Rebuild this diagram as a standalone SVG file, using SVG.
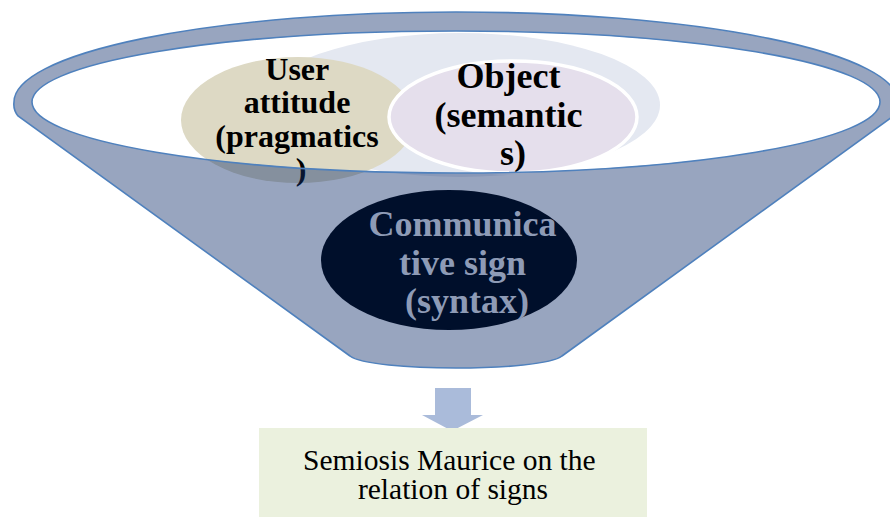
<svg xmlns="http://www.w3.org/2000/svg" width="890" height="517" viewBox="0 0 890 517">
  <style>
    .lbl { font-family: "Liberation Serif", "Times New Roman", serif; text-anchor: middle; }
    .bold { font-weight: bold; }
    .dark { fill: #000000; }
    .pale { fill: #8E9BB6; }
    .outline { stroke: #4F81BD; stroke-width: 1.6; }
  </style>

  <!-- background circles inside the funnel mouth -->
  <g id="halo">
    <ellipse cx="460" cy="105" rx="200" ry="72" fill="#E4E8F1"/>
  </g>

  <g id="pragmatics">
    <ellipse cx="298" cy="120" rx="117" ry="63" fill="#DDD9C4"/>
    <text class="lbl bold dark" font-size="32">
      <tspan x="301" y="80">User</tspan>
      <tspan x="301" y="113">attitude</tspan>
      <tspan x="301" y="147">(pragmatics</tspan>
      <tspan x="301" y="180">)</tspan>
    </text>
  </g>

  <g id="semantics">
    <ellipse cx="513" cy="117" rx="124" ry="56" fill="#E5DFEC" stroke="#FFFFFF" stroke-width="3.5"/>
    <text class="lbl bold dark" font-size="36">
      <tspan x="513" y="88">Object</tspan>
      <tspan x="513" y="127">(semantic</tspan>
      <tspan x="513" y="165">s)</tspan>
    </text>
  </g>

  <!-- funnel body: translucent, with the mouth left open -->
  <g id="funnel">
    <path class="outline" fill="rgb(20,50,110)" fill-opacity="0.44" fill-rule="evenodd"
          d="M18,116 Q13,110 14,102 A442,90 0 0 1 898,102 Q898,110 892,117 L562,356 C542,372 370,372 350,356 Z
             M32,102 A424,71 0 1 0 880,102 A424,71 0 1 0 32,102 Z"/>
  </g>

  <g id="syntax">
    <ellipse cx="449" cy="260" rx="128" ry="70" fill="#000F2B"/>
    <text class="lbl bold pale" font-size="36">
      <tspan x="467" y="236">Communica</tspan>
      <tspan x="467" y="275">tive sign</tspan>
      <tspan x="467" y="313">(syntax)</tspan>
    </text>
  </g>

  <g id="connectors">
    <path d="M435,388 H471 V415 H483 L452,431 L422,415 H435 Z" fill="#AABBDA"/>
  </g>

  <g id="result">
    <rect x="259" y="428" width="388" height="95" fill="#EBF1DE"/>
    <text class="lbl dark" font-size="29.5">
      <tspan x="453" y="470">Semiosis Maurice on the</tspan>
      <tspan x="453" y="499">relation of signs</tspan>
    </text>
  </g>
</svg>
